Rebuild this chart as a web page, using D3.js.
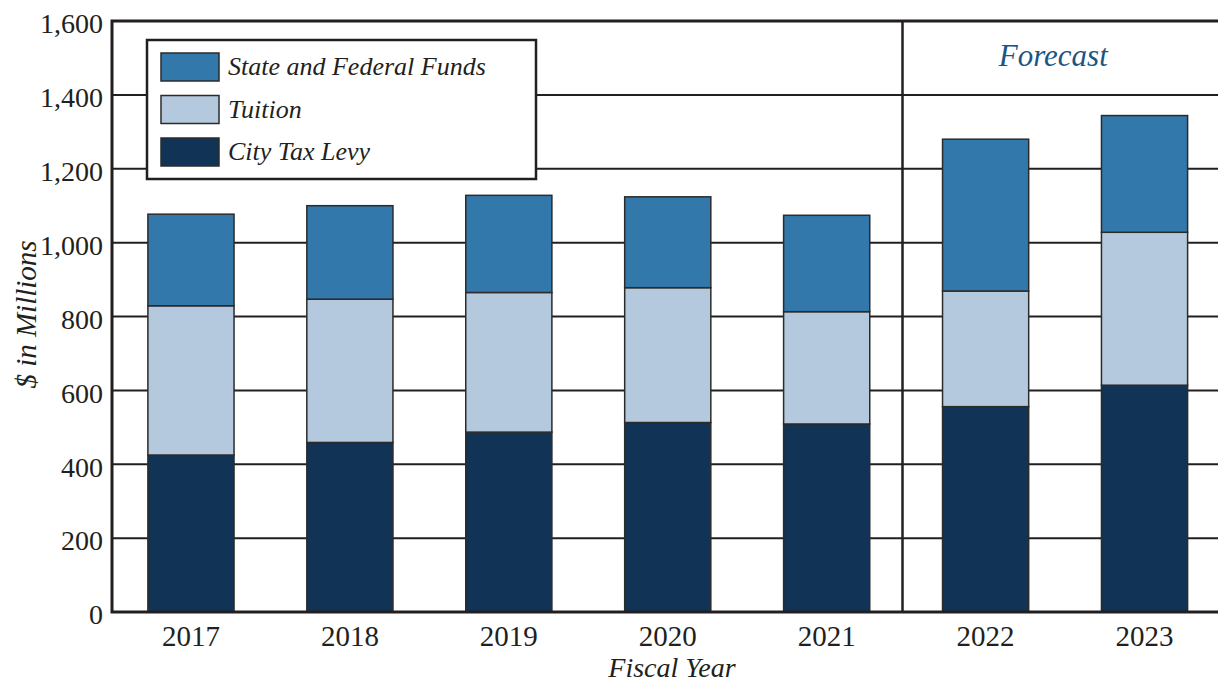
<!DOCTYPE html>
<html>
<head>
<meta charset="utf-8">
<script src="https://cdn.jsdelivr.net/npm/d3@7"></script>
<style>
  html, body { margin: 0; padding: 0; background: #fff; }
  svg { display: block; }
  text { font-family: "Liberation Serif", "DejaVu Serif", serif; fill: #231f20; }
</style>
</head>
<body>
<svg id="chart" width="1218" height="683"></svg>
<script>
// Fiscal years and funding sources ($ in millions)
const years = ["2017", "2018", "2019", "2020", "2021", "2022", "2023"];
const cityTaxLevy = [425, 459, 487, 513, 509, 556, 614];
const tuition = [404, 388, 378, 365, 304, 313, 414];
const stateFederal = [248, 253, 263, 246, 261, 411, 316];
const forecastYears = ["2022", "2023"];
const yTicks = [0, 200, 400, 600, 800, 1000, 1200, 1400, 1600];

const seriesKeys = ["city", "tuition", "state"];
const seriesNames = { city: "City Tax Levy", tuition: "Tuition", state: "State and Federal Funds" };
const seriesColors = { city: "#113355", tuition: "#b5c9de", state: "#3378aa" };

const rows = years.map((yr, i) => ({
  year: yr, city: cityTaxLevy[i], tuition: tuition[i], state: stateFederal[i]
}));

const svg = d3.select("#chart");
const W = 1218;
const plotLeft = 112, plotTop = 21, plotBottom = 612;

const x = d3.scaleBand().domain(years).range([111.5, 1224]).paddingInner(0.458).paddingOuter(0.229);
const y = d3.scaleLinear().domain([0, 1600]).range([plotBottom, plotTop]);

// horizontal gridlines
svg.append("g")
  .selectAll("line")
  .data(yTicks.filter(t => t > 0 && t < 1600))
  .join("line")
  .attr("x1", plotLeft).attr("x2", W)
  .attr("y1", d => y(d)).attr("y2", d => y(d))
  .attr("stroke", "#231f20").attr("stroke-width", 2);

// stacked bars
const stacked = d3.stack().keys(seriesKeys)(rows);
svg.append("g")
  .selectAll("g")
  .data(stacked)
  .join("g")
  .attr("fill", d => seriesColors[d.key])
  .selectAll("rect")
  .data(d => d)
  .join("rect")
  .attr("x", d => x(d.data.year))
  .attr("width", x.bandwidth())
  .attr("y", d => y(d[1]))
  .attr("height", d => y(d[0]) - y(d[1]))
  .attr("stroke", "#2b2b2b").attr("stroke-width", 1.5);

// forecast divider
const gap = x.step() - x.bandwidth();
const divX = x(forecastYears[0]) - gap * 0.55;
svg.append("line")
  .attr("x1", divX).attr("x2", divX)
  .attr("y1", plotTop).attr("y2", plotBottom)
  .attr("stroke", "#231f20").attr("stroke-width", 2.5);

svg.append("text")
  .attr("x", (divX + W) / 2 - 7).attr("y", 66)
  .attr("text-anchor", "middle")
  .attr("font-size", 31).attr("font-style", "italic")
  .style("fill", "#1a5587")
  .text("Forecast");

// y axis
const yAxis = svg.append("g")
  .attr("transform", `translate(${plotLeft},0)`)
  .call(d3.axisLeft(y).tickValues(yTicks).tickSize(0).tickPadding(9).tickFormat(d3.format(",")));
yAxis.select(".domain").remove();
yAxis.selectAll("text")
  .attr("font-size", 28).attr("dy", "0.42em")
  .style("font-family", "'Liberation Serif', serif").style("fill", "#231f20");

// x axis
const xAxis = svg.append("g")
  .attr("transform", `translate(0,${plotBottom})`)
  .call(d3.axisBottom(x).tickSize(0).tickPadding(13));
xAxis.select(".domain").remove();
xAxis.selectAll("text")
  .attr("font-size", 29)
  .style("font-family", "'Liberation Serif', serif").style("fill", "#231f20");

// frame: left, bottom and top lines
svg.append("path")
  .attr("d", `M${W},${plotTop}H${plotLeft}V${plotBottom}H${W}`)
  .attr("fill", "none").attr("stroke", "#231f20").attr("stroke-width", 3);

// axis titles
svg.append("text")
  .attr("transform", `translate(36,${(plotTop + plotBottom) / 2 - 2}) rotate(-90)`)
  .attr("text-anchor", "middle")
  .attr("font-size", 29).attr("font-style", "italic")
  .text("$ in Millions");

svg.append("text")
  .attr("x", 672).attr("y", 677)
  .attr("text-anchor", "middle")
  .attr("font-size", 28).attr("font-style", "italic")
  .text("Fiscal Year");

// legend
const legend = svg.append("g");
legend.append("rect")
  .attr("x", 147).attr("y", 40).attr("width", 389).attr("height", 139)
  .attr("fill", "#fff").attr("stroke", "#231f20").attr("stroke-width", 2.5);
const legendOrder = ["state", "tuition", "city"];
legendOrder.forEach((k, i) => {
  const ly = 53 + i * 42.5;
  legend.append("rect")
    .attr("x", 161).attr("y", ly).attr("width", 58).attr("height", 28)
    .attr("fill", seriesColors[k]).attr("stroke", "#2b2b2b").attr("stroke-width", 1.5);
  legend.append("text")
    .attr("x", 228).attr("y", ly + 22)
    .attr("font-size", 26).attr("font-style", "italic")
    .text(seriesNames[k]);
});
</script>
</body>
</html>
